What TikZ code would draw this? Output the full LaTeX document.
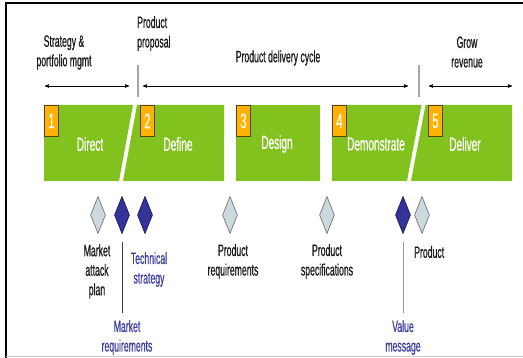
\documentclass[tikz,border=0pt]{standalone}
\usepackage{fontspec}
\setmainfont[FakeStretch=0.53,FakeBold=0.6]{Liberation Sans}
\usetikzlibrary{arrows,shapes.geometric}

\definecolor{phasegreen}{HTML}{82C21E}
\definecolor{numorange}{HTML}{FFB300}
\definecolor{numedge}{HTML}{5A3F00}
\definecolor{lightdiam}{HTML}{CBD8DE}
\definecolor{darkdiam}{HTML}{333399}
\definecolor{bluetext}{HTML}{3F3FA0}

\begin{document}
\begin{tikzpicture}[x=1pt,y=-1pt,>=stealth',
    every node/.style={inner sep=0pt,align=center,font=\fontsize{16.4}{19.5}\selectfont},
    phase/.style={text=white,font=\fontsize{19}{20}\selectfont},
    numbox/.style={anchor=north west,rectangle,fill=numorange,draw=numedge,line width=0.8pt,
        minimum width=14pt,minimum height=31pt,text=white,font=\fontsize{21}{20}\selectfont},
    gem/.style={diamond,minimum width=15pt,minimum height=37pt,line width=0.8pt},
    gemlight/.style={gem,fill=lightdiam,draw=gray},
    gemdark/.style={gem,fill=darkdiam,draw=darkdiam!60!black},
    milestone/.style={text=black!90},
    deliverable/.style={text=bluetext},
    span/.style={<->,semithick},
    cut/.style={draw=black!35,line width=1.5pt}]
\useasboundingbox (0,0) rectangle (523,358);
% frame
\draw[line width=1.5pt] (523,3) -- (6,3) -- (6,358);
\draw[black!20,line width=1.5pt] (6,356.5) -- (523,356.5);
% green phases
\fill[phasegreen] (44,105) -- (133,105) -- (119,181) -- (44,181) -- cycle;
\fill[phasegreen] (137,105) -- (224,105) -- (224,181) -- (123,181) -- cycle;
\fill[phasegreen] (236,105) rectangle (320,181);
\fill[phasegreen] (332,105) -- (421.5,105) -- (407,181) -- (332,181) -- cycle;
\fill[phasegreen] (425.5,105) -- (512,105) -- (512,181) -- (411,181) -- cycle;
\node[numbox](n1)at(44,105){1};
\node[numbox](n2)at(140,105){2};
\node[numbox](n3)at(236,105){3};
\node[numbox](n4)at(332,105){4};
\node[numbox](n5)at(428,105){5};
\node[phase](Direct)at(90,144){Direct};
\node[phase](Define)at(178,144){Define};
\node[phase](Design)at(277,144){Design};
\node[phase](Demonstrate)at(376,144){Demonstrate};
\node[phase](Deliver)at(465,144){Deliver};
% spans on top
\coordinate(s1)at(45,86);
\coordinate(s2)at(129,86);
\coordinate(s3)at(143,86);
\coordinate(s4)at(408,86);
\coordinate(s5)at(429,86);
\coordinate(s6)at(512,86);
\coordinate(c1top)at(138,65);
\coordinate(c1bot)at(138,97);
\coordinate(c2top)at(419,65);
\coordinate(c2bot)at(419,97);
\path[span](s1) edge (s2)
    (s3) edge (s4)
    (s5) edge (s6);
\path[cut](c1top) edge (c1bot)
    (c2top) edge (c2bot);
\node[milestone](Strategy)at(64,52.5){Strategy \&\\portfolio mgmt};
\node[milestone,anchor=west,align=left](Proposal)at(137,33.5){Product\\proposal};
\node[milestone](Cycle)at(278,58){Product delivery cycle};
\node[milestone](Grow)at(467,52){Grow\\revenue};
% milestones
\node[gemlight](d1)at(98,215){};
\node[gemdark](d2)at(122,215){};
\node[gemdark](d3)at(145,215){};
\node[gemlight](d4)at(230,215){};
\node[gemlight](d5)at(327,215){};
\node[gemdark](d6)at(403,215){};
\node[gemlight](d7)at(422,215){};
\node[milestone](Attack)at(97,271.5){Market\\attack\\plan};
\node[deliverable](MarketReq)at(127,337.5){Market\\requirements};
\node[deliverable](Technical)at(149,269.5){Technical\\strategy};
\node[milestone](ProdReq)at(233,261.5){Product\\requirements};
\node[milestone](ProdSpec)at(327,261.5){Product\\specifications};
\node[deliverable](Value)at(403,337.5){Value\\message};
\node[milestone,anchor=west](Product)at(414,252){Product};
\draw[black!75,semithick,shorten <=8pt,shorten >=7pt](d2.south) -- (d2.south |- MarketReq.north);
\draw[black!40,semithick,shorten <=8pt,shorten >=7pt](d6.south) -- (Value.north);
\end{tikzpicture}
\end{document}
